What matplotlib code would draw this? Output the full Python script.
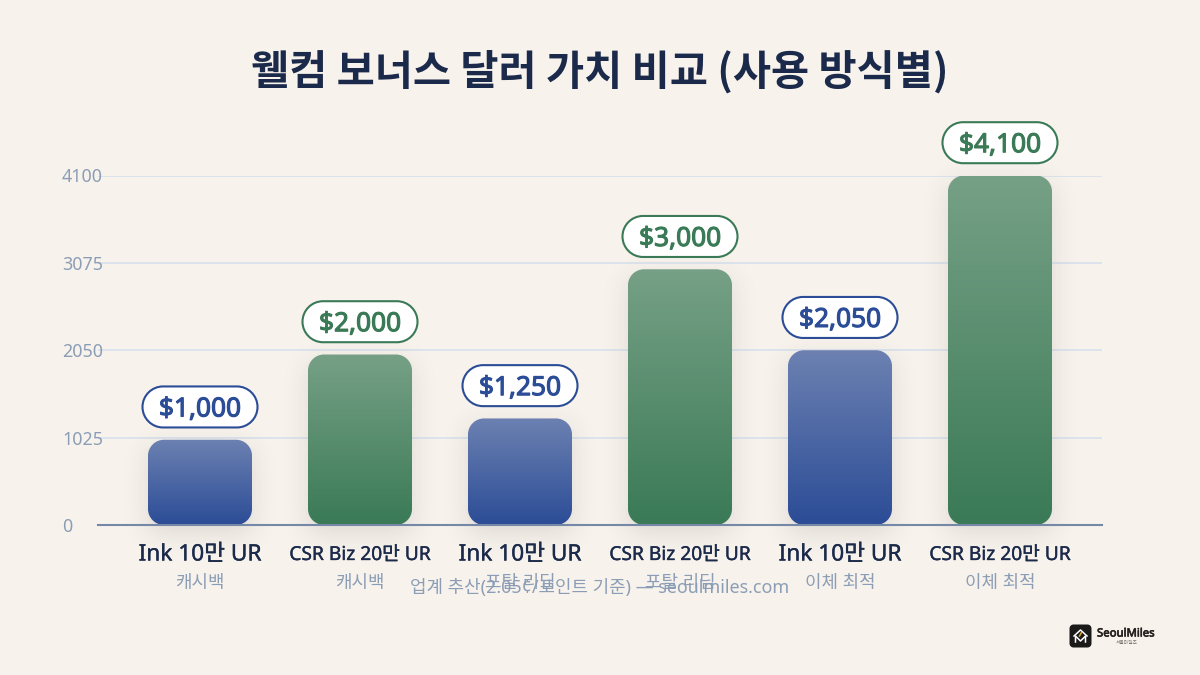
import math
import numpy as np
import matplotlib
matplotlib.use("Agg")
import matplotlib.pyplot as plt
import matplotlib.patheffects as pe
from matplotlib.colors import to_rgb
from matplotlib.patches import PathPatch
from matplotlib.path import Path as MplPath

plt.rcParams['font.family'] = ['Noto Sans', 'Noto Sans CJK KR', 'DejaVu Sans']

TITLE = "웰컴 보너스 달러 가치 비교 (사용 방식별)"
FOOTNOTE = "업계 추산(2.05¢/포인트 기준) — seoulmiles.com"
cards = ["Ink 10만 UR", "CSR Biz 20만 UR", "Ink 10만 UR", "CSR Biz 20만 UR", "Ink 10만 UR", "CSR Biz 20만 UR"]
methods = ["캐시백", "캐시백", "포탈 리딤", "포탈 리딤", "이체 최적", "이체 최적"]
values = [1000, 2000, 1250, 3000, 2050, 4100]
value_labels = ["$1,000", "$2,000", "$1,250", "$3,000", "$2,050", "$4,100"]
y_ticks = [0, 1025, 2050, 3075, 4100]

BG = "#f7f2ec"
NAVY = "#1b2a4a"
BLUE = "#2b4c96"
GREEN = "#3a7a56"
MUTED = "#8c9eb6"
GRID = "#d6dfec"
AXIS = "#7688a8"
series_colors = [BLUE, GREEN, BLUE, GREEN, BLUE, GREEN]

W, H = 1200, 675
fig = plt.figure(figsize=(12, 6.75), dpi=100, facecolor=BG)

# plot frame, placed in pixels
LEFT, RIGHT, TOP, BOTTOM = 98, 1102, 175.5, 525
ax = fig.add_axes([LEFT / W, 1 - BOTTOM / H, (RIGHT - LEFT) / W, (BOTTOM - TOP) / H])
ax.set_facecolor("none")
PITCH = 160
FIRST_CENTER = 200
ax.set_xlim((LEFT - FIRST_CENTER) / PITCH, (RIGHT - FIRST_CENTER) / PITCH)
ax.set_ylim(0, max(y_ticks))

# data units per pixel on each axis
ux = 1 / PITCH
uy = max(y_ticks) / (BOTTOM - TOP)

for s in ["top", "right", "left"]:
    ax.spines[s].set_visible(False)
ax.spines["bottom"].set_color(AXIS)
ax.spines["bottom"].set_linewidth(1.5)
ax.set_xticks([])
ax.set_yticks(y_ticks)
ax.set_yticklabels([str(t) for t in y_ticks])
ax.tick_params(axis="y", length=0, pad=26, labelsize=12.9, labelcolor=MUTED)
for lab in ax.get_yticklabels():
    lab.set_ha("left")
ax.grid(axis="y", color=GRID, linewidth=1.1, zorder=0)
ax.set_axisbelow(True)


def heavier(color, width):
    """Outline that thickens a face with no heavier cut installed."""
    return [pe.withStroke(linewidth=width, foreground=color)]


def rounded_box(x0, y0, w, h, rx, ry):
    """Rounded rectangle path with true elliptical corners."""
    k = 0.5523
    x1, y1 = x0 + w, y0 + h
    verts = [
        (x0 + rx, y0), (x1 - rx, y0),
        (x1 - rx + k * rx, y0), (x1, y0 + ry - k * ry), (x1, y0 + ry),
        (x1, y1 - ry),
        (x1, y1 - ry + k * ry), (x1 - rx + k * rx, y1), (x1 - rx, y1),
        (x0 + rx, y1),
        (x0 + rx - k * rx, y1), (x0, y1 - ry + k * ry), (x0, y1 - ry),
        (x0, y0 + ry),
        (x0, y0 + ry - k * ry), (x0 + rx - k * rx, y0), (x0 + rx, y0),
        (x0 + rx, y0),
    ]
    codes = [MplPath.MOVETO, MplPath.LINETO,
             MplPath.CURVE4, MplPath.CURVE4, MplPath.CURVE4,
             MplPath.LINETO,
             MplPath.CURVE4, MplPath.CURVE4, MplPath.CURVE4,
             MplPath.LINETO,
             MplPath.CURVE4, MplPath.CURVE4, MplPath.CURVE4,
             MplPath.LINETO,
             MplPath.CURVE4, MplPath.CURVE4, MplPath.CURVE4,
             MplPath.CLOSEPOLY]
    return MplPath(verts, codes)


def soft_shadow(center, top, half_w_px, sigma_px=13, dy_px=8, strength=0.13):
    """Gaussian-edged drop shadow under a bar, in data coordinates."""
    pad = 3 * sigma_px
    xs = np.linspace(-half_w_px - pad, half_w_px + pad, 120)
    height_px = top / uy
    ys = np.linspace(-pad - dy_px, height_px + pad, 160)
    erf = np.vectorize(math.erf)
    k = sigma_px * math.sqrt(2)
    ax_part = 0.5 * (erf((xs + half_w_px) / k) - erf((xs - half_w_px) / k))
    ay_part = 0.5 * (erf((ys + dy_px) / k) - erf((ys - (height_px - dy_px)) / k))
    alpha = strength * np.outer(ay_part, ax_part)
    img = np.zeros(alpha.shape + (4,))
    img[..., :3] = 0.16
    img[..., 3] = alpha
    ax.imshow(img, origin="lower", aspect="auto", interpolation="bilinear",
              extent=(center + xs[0] * ux, center + xs[-1] * ux, ys[0] * uy, ys[-1] * uy),
              zorder=1.5, clip_on=False)


BAR_W = 104 * ux
for i, (v, col) in enumerate(zip(values, series_colors)):
    soft_shadow(i, v, 52)
    # vertical fade: translucent top to solid bottom, blended on the page colour
    base = np.array(to_rgb(col))
    page = np.array(to_rgb(BG))
    grad_alpha = np.linspace(1.0, 0.68, 256)[:, None, None]
    img = grad_alpha * base + (1 - grad_alpha) * page
    im = ax.imshow(img, origin="lower", aspect="auto",
                   extent=(i - BAR_W / 2, i + BAR_W / 2, 0, v), zorder=2)
    clip = PathPatch(rounded_box(i - BAR_W / 2, 0, BAR_W, v, 16 * ux, 16 * uy),
                     transform=ax.transData, facecolor="none", edgecolor="none")
    ax.add_patch(clip)
    im.set_clip_path(clip)

    # value badge above each bar
    pw, ph = 115 * ux, 41 * uy
    cy = v + 32.8 * uy
    pill = PathPatch(rounded_box(i - pw / 2, cy - ph / 2, pw, ph, 20.5 * ux, 20.5 * uy),
                     facecolor="white", edgecolor=col, linewidth=1.5, zorder=3, clip_on=False)
    ax.add_patch(pill)
    ax.text(i, cy, value_labels[i], ha="center", va="center_baseline", color=col,
            fontsize=18.9, zorder=4, clip_on=False, path_effects=heavier(col, 0.8))

ax.set_xlim((LEFT - FIRST_CENTER) / PITCH, (RIGHT - FIRST_CENTER) / PITCH)
ax.set_ylim(0, max(y_ticks))


def px_text(x, y, s, **kw):
    kw.setdefault("ha", "center")
    kw.setdefault("va", "center_baseline")
    return fig.text(x / W, 1 - y / H, s, **kw)


px_text(600, 67, TITLE, fontsize=29.85, fontweight="bold", color=NAVY,
        family=['Noto Sans CJK KR', 'DejaVu Sans'])

for i, (card, method) in enumerate(zip(cards, methods)):
    cx = FIRST_CENTER + i * PITCH
    size = 16.3 if card.startswith("Ink") else 13.8
    px_text(cx, 552.5, card, fontsize=size, color=NAVY, path_effects=heavier(NAVY, 0.25))
    px_text(cx, 581, method, fontsize=12.9, color=MUTED)

px_text(600, 586, FOOTNOTE, fontsize=12.9, color=MUTED)

# brand mark, bottom right
overlay = fig.add_axes([0, 0, 1, 1], facecolor="none")
overlay.set_xlim(0, W)
overlay.set_ylim(H, 0)
overlay.axis("off")
overlay.add_patch(PathPatch(rounded_box(1069.5, 624.5, 22, 23, 4, 4),
                            facecolor="#1c1a18", edgecolor="none"))
overlay.plot([1074, 1080.5, 1087], [636, 630, 636], color="white", linewidth=1.1)
overlay.plot([1075.5, 1075.5, 1080.5, 1085.5, 1085.5], [642, 636, 641, 636, 642],
             color="white", linewidth=1.1)
overlay.plot([1079.5, 1081.5], [636, 632.5], color="#e0a72e", linewidth=1.1)
px_text(1097, 632.5, "SeoulMiles", ha="left", fontsize=8.2, color="#23201d",
        path_effects=heavier("#23201d", 0.45))
px_text(1126.5, 641.5, "서울마일즈", fontsize=3.4, color="#77736e")

fig.savefig("out.png", dpi=100, facecolor=BG)
